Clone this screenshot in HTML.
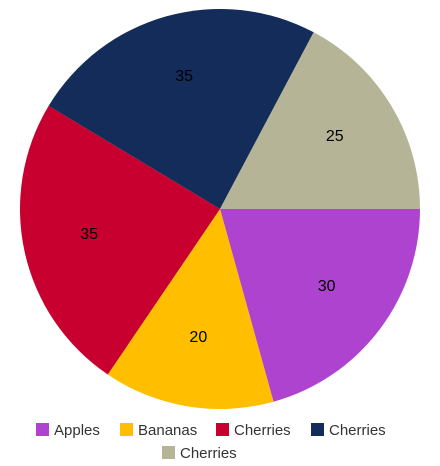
<!DOCTYPE html>
<html><head><meta charset="utf-8">
<style>
html,body{margin:0;padding:0;background:#fff;}
body{width:440px;height:466px;overflow:hidden;font-family:"Liberation Sans",sans-serif;}
svg{display:block;}
</style></head>
<body>
<svg id="chart" width="440" height="466"></svg>
<script>
const categories = ["Apples","Bananas","Cherries","Cherries","Cherries"];
const values = [30,20,35,35,25];
const colors = ["#AE43D0","#FFBF00","#C8002F","#142C59","#B6B497"];
const svg = document.getElementById('chart');
const NS = "http://www.w3.org/2000/svg";
const cx = 220, cy = 209, r = 200;
const total = values.reduce((a,b)=>a+b,0);
function angleOf(v){ return v/total*2*Math.PI; }
let a0 = 0;
values.forEach((v,i)=>{
  const a1 = a0 + angleOf(v);
  const x0 = cx + r*Math.cos(a0), y0 = cy + r*Math.sin(a0);
  const x1 = cx + r*Math.cos(a1), y1 = cy + r*Math.sin(a1);
  const large = (a1-a0) > Math.PI ? 1 : 0;
  const p = document.createElementNS(NS,'path');
  p.setAttribute('d',`M${cx},${cy} L${x0},${y0} A${r},${r} 0 ${large} 1 ${x1},${y1} Z`);
  p.setAttribute('fill',colors[i]);
  
  
  svg.appendChild(p);
  const am = (a0+a1)/2, lr = r*0.67;
  const t = document.createElementNS(NS,'text');
  t.setAttribute('x', cx + lr*Math.cos(am));
  t.setAttribute('y', cy + lr*Math.sin(am) + 1);
  t.setAttribute('text-anchor','middle');
  t.setAttribute('font-size','16');
  t.setAttribute('fill','#000');
  t.textContent = v;
  
  
  svg.appendChild(t);
  a0 = a1;
});
const legendPos = [[36,430],[120,430],[216,430],[311,430],[162,453]];
categories.forEach((c,i)=>{
  const [x,y] = legendPos[i];
  const g = document.createElementNS(NS,'g');
  
  
  const s = document.createElementNS(NS,'rect');
  s.setAttribute('x',x); s.setAttribute('y',y-7);
  s.setAttribute('width',13); s.setAttribute('height',13);
  s.setAttribute('fill',colors[i]);
  g.appendChild(s);
  const t = document.createElementNS(NS,'text');
  t.setAttribute('x',x+18); t.setAttribute('y',y+5);
  t.setAttribute('font-size','15'); t.setAttribute('fill','#333');
  t.textContent = c;
  g.appendChild(t);
  svg.appendChild(g);
});
</script>
</body></html>
